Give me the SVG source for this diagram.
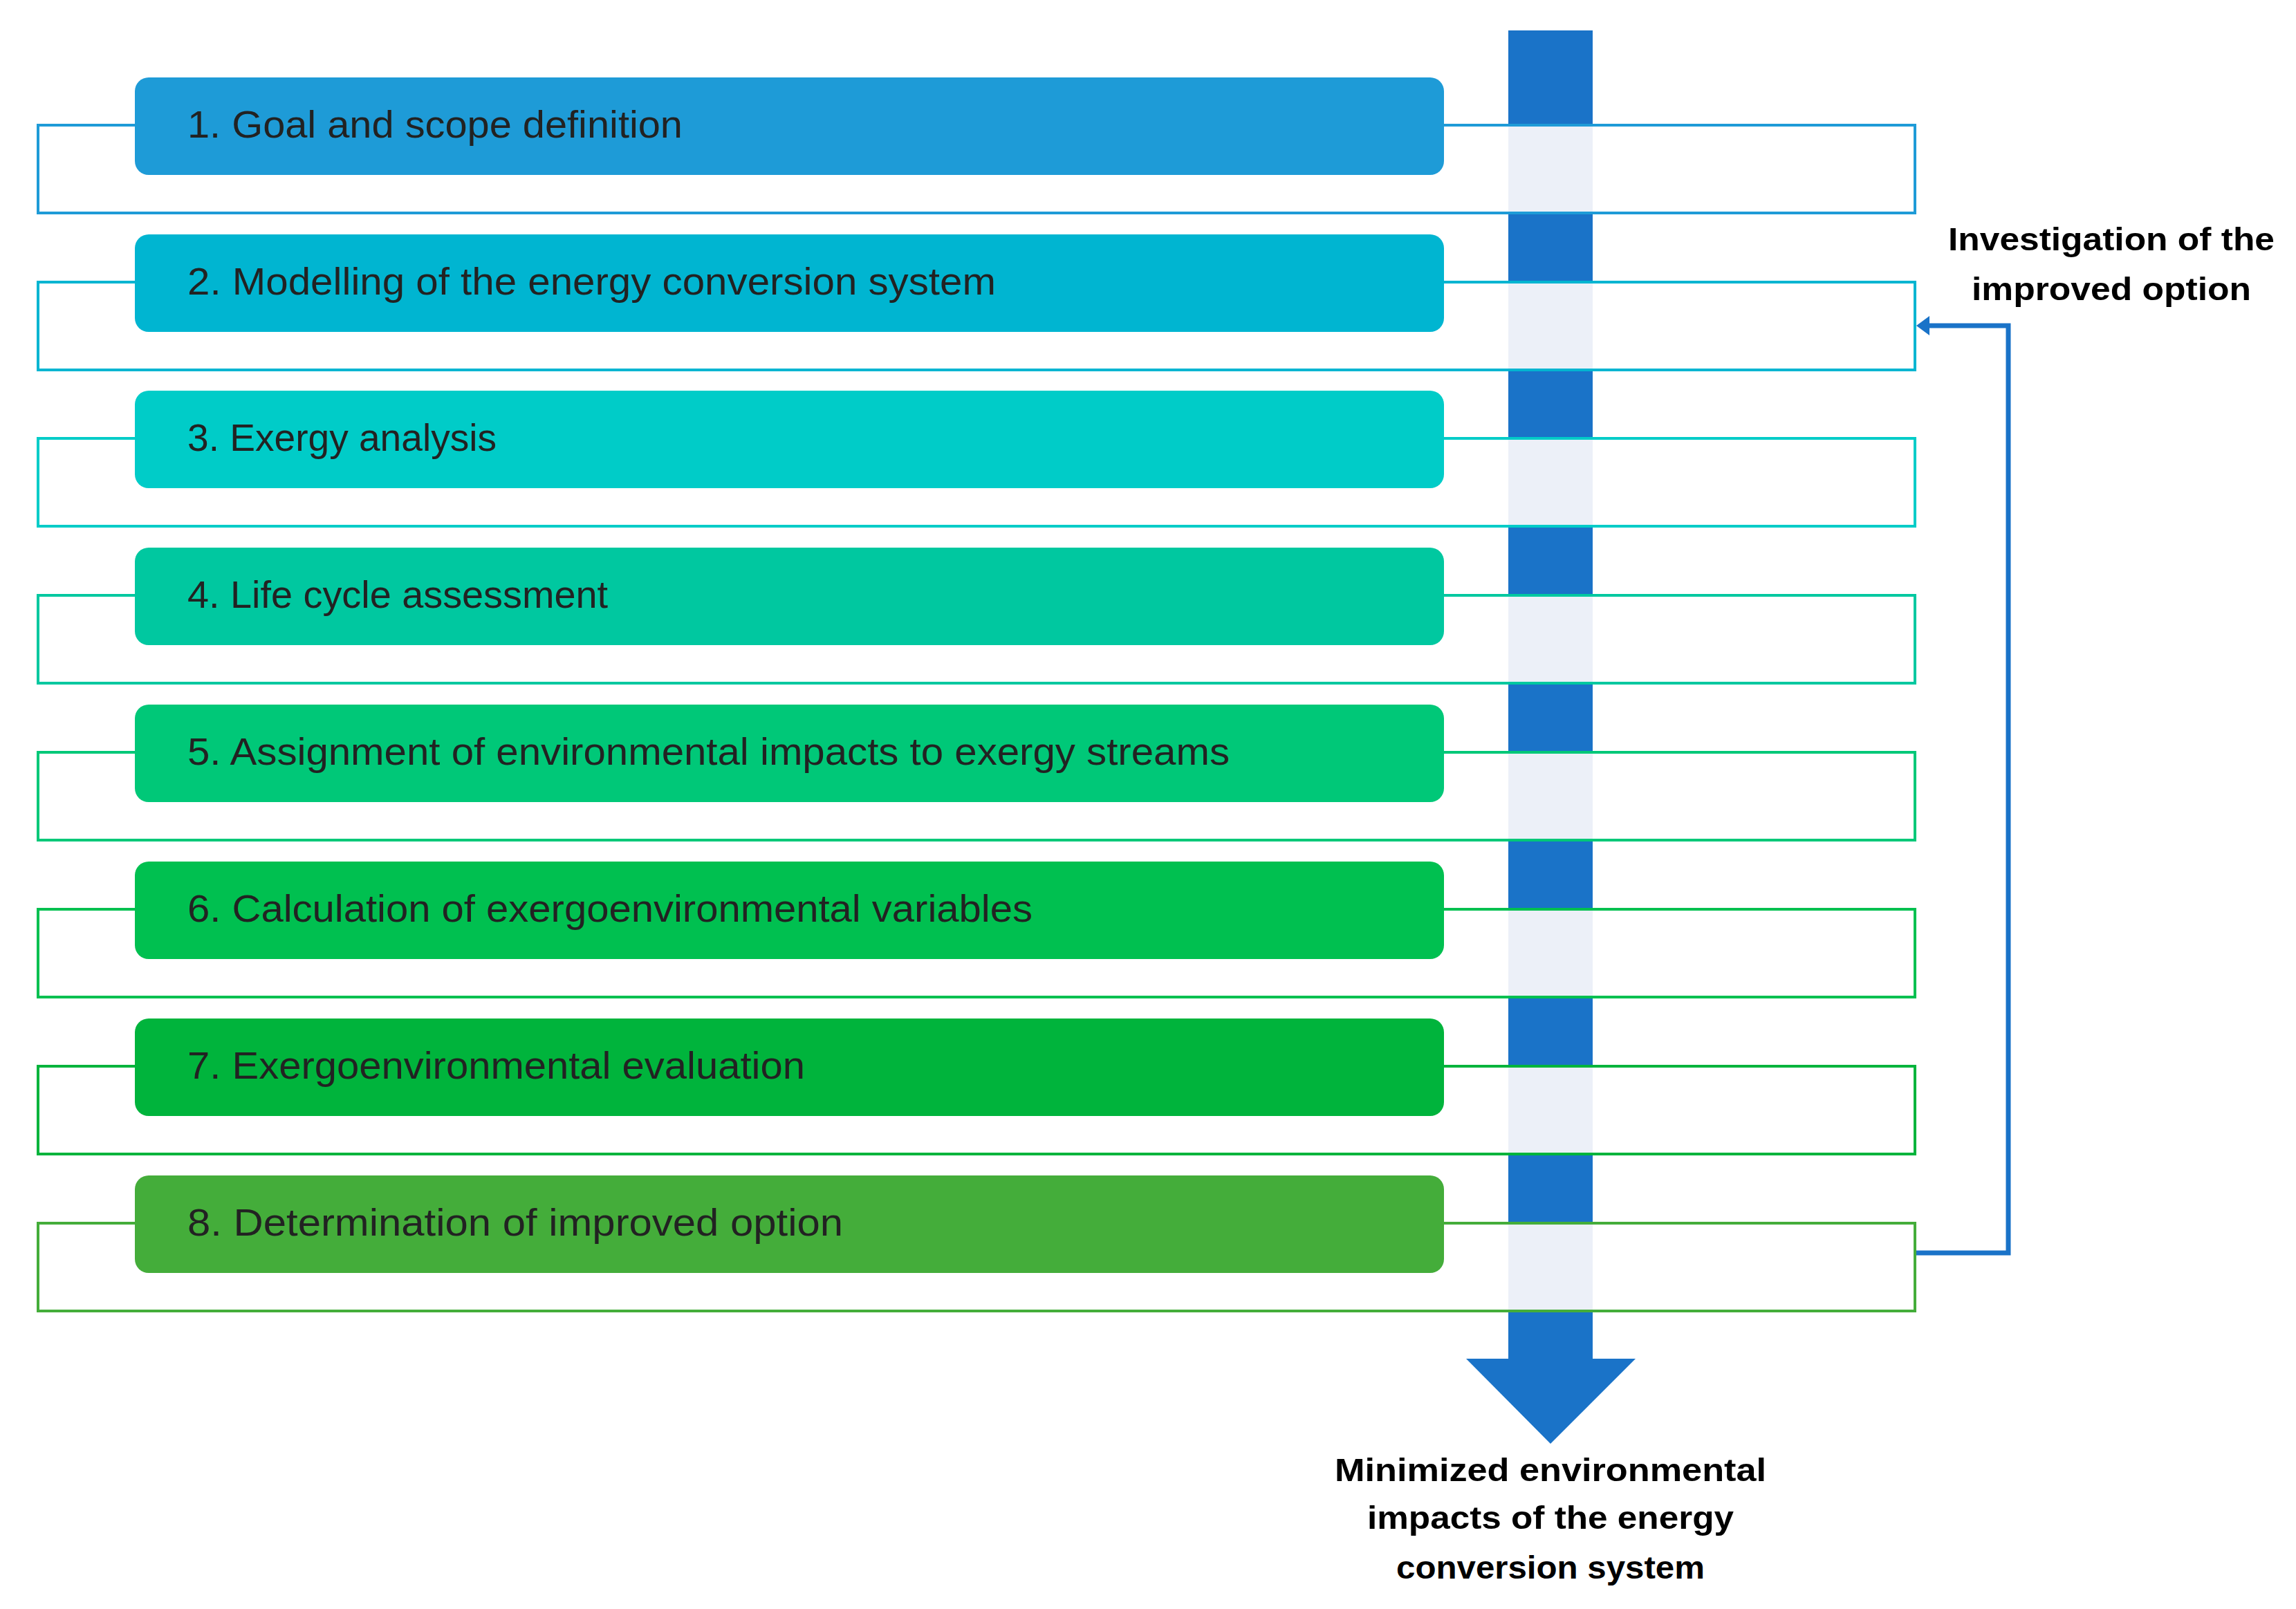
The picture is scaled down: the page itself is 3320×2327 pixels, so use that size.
<svg xmlns="http://www.w3.org/2000/svg" width="3320" height="2327" viewBox="0 0 3320 2327">
<style>
.t{font-family:"Liberation Sans",Arial,sans-serif;font-size:56px;fill:#222}
.b{font-family:"Liberation Sans",Arial,sans-serif;font-size:46px;font-weight:bold;fill:#000;text-anchor:middle}
.o{fill:none;stroke-width:4}
.band{fill:#ECF0F8}
</style>
<rect width="3320" height="2327" fill="#fff"/>
<g id="flow-arrow">
<polygon points="2181,44 2303,44 2303,1965 2365,1965 2242,2088 2120,1965 2181,1965" fill="#1A73C8"/>
</g>
<g id="connectors">
<polyline points="2769,1812 2904,1812 2904,471 2785,471" fill="none" stroke="#1A73C8" stroke-width="7"/>
<polygon points="2771,471 2790,457 2790,485" fill="#1A73C8"/>
</g>
<g id="step1"><rect class="band" x="2181" y="181" width="122" height="127"/><rect class="o" x="55" y="181" width="2714" height="127" stroke="#1E9BD7"/><rect x="195" y="112" width="1893" height="141" rx="20" fill="#1E9BD7"/><text class="t" x="271" y="199" textLength="716" lengthAdjust="spacingAndGlyphs">1. Goal and scope definition</text></g>
<g id="step2"><rect class="band" x="2181" y="408" width="122" height="127"/><rect class="o" x="55" y="408" width="2714" height="127" stroke="#00B5D1"/><rect x="195" y="339" width="1893" height="141" rx="20" fill="#00B5D1"/><text class="t" x="271" y="426" textLength="1169" lengthAdjust="spacingAndGlyphs">2. Modelling of the energy conversion system</text></g>
<g id="step3"><rect class="band" x="2181" y="634" width="122" height="127"/><rect class="o" x="55" y="634" width="2714" height="127" stroke="#00CCC8"/><rect x="195" y="565" width="1893" height="141" rx="20" fill="#00CCC8"/><text class="t" x="271" y="652" textLength="447" lengthAdjust="spacingAndGlyphs">3. Exergy analysis</text></g>
<g id="step4"><rect class="band" x="2181" y="861" width="122" height="127"/><rect class="o" x="55" y="861" width="2714" height="127" stroke="#00C8A0"/><rect x="195" y="792" width="1893" height="141" rx="20" fill="#00C8A0"/><text class="t" x="271" y="879" textLength="608" lengthAdjust="spacingAndGlyphs">4. Life cycle assessment</text></g>
<g id="step5"><rect class="band" x="2181" y="1088" width="122" height="127"/><rect class="o" x="55" y="1088" width="2714" height="127" stroke="#00C878"/><rect x="195" y="1019" width="1893" height="141" rx="20" fill="#00C878"/><text class="t" x="271" y="1106" textLength="1507" lengthAdjust="spacingAndGlyphs">5. Assignment of environmental impacts to exergy streams</text></g>
<g id="step6"><rect class="band" x="2181" y="1315" width="122" height="127"/><rect class="o" x="55" y="1315" width="2714" height="127" stroke="#00C050"/><rect x="195" y="1246" width="1893" height="141" rx="20" fill="#00C050"/><text class="t" x="271" y="1333" textLength="1222" lengthAdjust="spacingAndGlyphs">6. Calculation of exergoenvironmental variables</text></g>
<g id="step7"><rect class="band" x="2181" y="1542" width="122" height="127"/><rect class="o" x="55" y="1542" width="2714" height="127" stroke="#00B43C"/><rect x="195" y="1473" width="1893" height="141" rx="20" fill="#00B43C"/><text class="t" x="271" y="1560" textLength="893" lengthAdjust="spacingAndGlyphs">7. Exergoenvironmental evaluation</text></g>
<g id="step8"><rect class="band" x="2181" y="1769" width="122" height="127"/><rect class="o" x="55" y="1769" width="2714" height="127" stroke="#44AD3A"/><rect x="195" y="1700" width="1893" height="141" rx="20" fill="#44AD3A"/><text class="t" x="271" y="1787" textLength="948" lengthAdjust="spacingAndGlyphs">8. Determination of improved option</text></g>
<g id="label-investigation"><text class="b" x="3053" y="362" textLength="472" lengthAdjust="spacingAndGlyphs">Investigation of the</text><text class="b" x="3053" y="434" textLength="404" lengthAdjust="spacingAndGlyphs">improved option</text></g>
<g id="label-result"><text class="b" x="2242" y="2142" textLength="624" lengthAdjust="spacingAndGlyphs">Minimized environmental</text><text class="b" x="2242" y="2211" textLength="530" lengthAdjust="spacingAndGlyphs">impacts of the energy</text><text class="b" x="2242" y="2283" textLength="446" lengthAdjust="spacingAndGlyphs">conversion system</text></g>
</svg>
